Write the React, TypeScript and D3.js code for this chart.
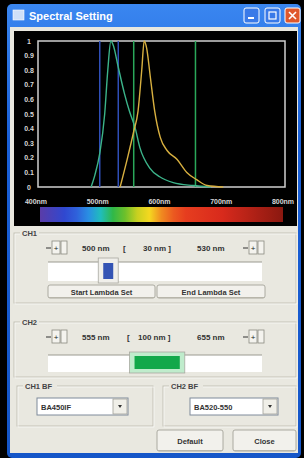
// @ts-nocheck
import React from 'react';
import * as d3 from 'd3';

// axis ticks
const xTicks = [400, 500, 600, 700, 800];
const yTicks = [0, 0.1, 0.2, 0.3, 0.4, 0.5, 0.6, 0.7, 0.8, 0.9, 1];

// green dye spectrum (wavelength nm, relative intensity)
const greenWl = [486, 492, 500, 508, 513, 518, 522, 530, 540, 548, 557, 565, 581, 597, 619, 651, 680];
const greenVal = [0, 0.08, 0.23, 0.5, 0.8, 1, 0.97, 0.82, 0.64, 0.52, 0.41, 0.27, 0.13, 0.07, 0.03, 0.01, 0];

// orange dye spectrum
const orangeWl = [533, 545, 555, 562, 568, 572, 576, 582, 589, 598, 609, 625, 641, 657, 674, 700];
const orangeVal = [0, 0.2, 0.38, 0.52, 0.8, 1, 0.95, 0.75, 0.52, 0.34, 0.25, 0.19, 0.1, 0.05, 0.01, 0];

// detection windows
const ch1Range = [500, 530];
const ch2Range = [555, 655];
const filters = ['BA450IF', 'BA520-550'];

// spectrum bar colours
const specWl = [400, 440, 470, 495, 510, 530, 560, 580, 600, 630, 700, 800];
const specCol = ['#5a3ca8', '#3048d0', '#2f6ee0', '#20c0e8', '#20b860', '#40b830', '#c8d020', '#f4d820', '#f08a20', '#e84020', '#d82a1c', '#8a1810'];

const font = '"Liberation Sans", Arial, sans-serif';

const Spin = ({ x, y }) => (
  <g>
    <line x1={x} y1={y + 7} x2={x + 5} y2={y + 7} stroke="#333" strokeWidth={1} />
    <rect x={x + 6} y={y} width={8} height={13} fill="#f4f3ee" stroke="#8a8a80" strokeWidth={0.8} />
    <text x={x + 10} y={y + 10} fontSize={8} textAnchor="middle" fill="#222" fontFamily={font}>+</text>
    <rect x={x + 15} y={y} width={6} height={13} fill="#f4f3ee" stroke="#8a8a80" strokeWidth={0.8} />
  </g>
);

const Button = ({ x, y, w, h, label }) => (
  <g>
    <rect x={x} y={y} width={w} height={h} rx={2} fill="#f2f1ec" stroke="#9a9a90" strokeWidth={0.8} />
    <line x1={x + 1} y1={y + h - 0.5} x2={x + w - 1} y2={y + h - 0.5} stroke="#b8b6aa" strokeWidth={1.2} />
    <text x={x + w / 2} y={y + h / 2 + 3} fontSize={7.5} fontWeight="bold" textAnchor="middle" fill="#333" fontFamily={font}>{label}</text>
  </g>
);

const Group = ({ x, y, w, h, label }) => (
  <g>
    <rect x={x} y={y} width={w} height={h} fill="none" stroke="#c4c2b6" strokeWidth={1} />
    <rect x={x + 1} y={y + 1} width={w} height={h} fill="none" stroke="#ffffff" strokeWidth={0.6} />
    <rect x={x + 6} y={y - 5} width={label.length * 5 + 4} height={9} fill="#e9e8e0" />
    <text x={x + 8} y={y + 3} fontSize={7.5} fontWeight="bold" fill="#444" fontFamily={font}>{label}</text>
  </g>
);

const Combo = ({ x, y, w, label }) => (
  <g>
    <rect x={x} y={y} width={w} height={17} fill="#fff" stroke="#7f8a9a" strokeWidth={1} />
    <text x={x + 4} y={y + 12} fontSize={7.5} fontWeight="bold" fill="#333" fontFamily={font}>{label}</text>
    <rect x={x + w - 15} y={y + 1} width={14} height={15} fill="#f0efe8" stroke="#a0a098" strokeWidth={0.8} />
    <path d={`M${x + w - 10},${y + 7} l4,0 l-2,3 z`} fill="#333" />
  </g>
);

const Txt = ({ x, y, children }) => (
  <text x={x} y={y} fontSize={8} fontWeight="bold" fill="#333" fontFamily={font}>{children}</text>
);

export default function App() {
  const x = d3.scaleLinear().domain([400, 800]).range([38, 285]);
  const y = d3.scaleLinear().domain([0, 1]).range([187, 41]);
  const slider = d3.scaleLinear().domain([400, 800]).range([49, 262]);
  const specColor = d3.scaleLinear().domain(specWl).range(specCol);

  const line = d3.line().x(d => x(d[0])).y(d => y(d[1])).curve(d3.curveMonotoneX);
  const green = line(greenWl.map((w, i) => [w, greenVal[i]]));
  const orange = line(orangeWl.map((w, i) => [w, orangeVal[i]]));

  const gradStops = d3.range(400, 801, 20);

  return (
    <svg width={304} height={458} style={{ position: 'absolute', left: 0, top: 0, background: '#000' }}>
      <defs>
        <linearGradient id="spec" x1="0" x2="1" y1="0" y2="0">
          {gradStops.map(w => (
            <stop key={w} offset={(w - 400) / 400} stopColor={specColor(w)} />
          ))}
        </linearGradient>
        <linearGradient id="title" x1="0" x2="0" y1="0" y2="1">
          <stop offset="0" stopColor="#3a86f0" />
          <stop offset="0.3" stopColor="#1a60d8" />
          <stop offset="1" stopColor="#1556c8" />
        </linearGradient>
      </defs>

      {/* window frame */}
      <rect x={7} y={4} width={294} height={454} rx={5} fill="url(#title)" />
      <rect x={10} y={27} width={288} height={426} fill="#e9e8e0" />
      <rect x={13} y={10} width={11} height={10} fill="#cfe0f8" stroke="#fff" strokeWidth={0.6} />
      <text x={29} y={19.5} fontSize={11} fontWeight="bold" fill="#fff" fontFamily={font}>Spectral Setting</text>
      <rect x={244} y={8} width={15} height={15} rx={2} fill="#3a7ae8" stroke="#fff" strokeWidth={1} />
      <rect x={248} y={17} width={6} height={2} fill="#fff" />
      <rect x={265} y={8} width={15} height={15} rx={2} fill="#3a7ae8" stroke="#fff" strokeWidth={1} />
      <rect x={269} y={12} width={7} height={7} fill="none" stroke="#fff" strokeWidth={1.2} />
      <rect x={285} y={8} width={15} height={15} rx={2} fill="#e0582c" stroke="#fff" strokeWidth={1} />
      <path d="M289,12 l7,7 M296,12 l-7,7" stroke="#fff" strokeWidth={1.6} />

      {/* chart panel */}
      <rect x={14} y={31} width={283} height={195} fill="#000" />
      <rect x={x(400)} y={y(1)} width={x(800) - x(400)} height={y(0) - y(1)} fill="none" stroke="#cfcfcf" strokeWidth={1.5} />

      {yTicks.map(t => (
        <text key={t} x={29} y={y(t) + 2.5} fontSize={7} fontWeight="bold" textAnchor="middle" fill="#d8d8d8" fontFamily={font}>
          {t === 0 || t === 1 ? t : t.toFixed(1)}
        </text>
      ))}
      {xTicks.map(t => (
        <text key={t} x={x(t) - 2} y={204} fontSize={7} fontWeight="bold" textAnchor="middle" fill="#d8d8d8" fontFamily={font}>
          {t}nm
        </text>
      ))}

      <rect x={40} y={207} width={243} height={15} fill="url(#spec)" />

      {/* detection windows */}
      {ch1Range.map(w => (
        <line key={'c1' + w} x1={x(w)} x2={x(w)} y1={y(1)} y2={y(0)} stroke="#2f4fb8" strokeWidth={1.5} />
      ))}
      {ch2Range.map(w => (
        <line key={'c2' + w} x1={x(w)} x2={x(w)} y1={y(1)} y2={y(0)} stroke="#2aa85a" strokeWidth={1.5} />
      ))}

      <path d={green} fill="none" stroke="#3cb48a" strokeWidth={1.4} />
      <path d={orange} fill="none" stroke="#d8b040" strokeWidth={1.4} />

      {/* CH1 group */}
      <Group x={14} y={233} w={282} h={70} label="CH1" />
      <Spin x={46} y={241} />
      <Txt x={82} y={251}>{`${ch1Range[0]} nm`}</Txt>
      <Txt x={123} y={251}>[</Txt>
      <Txt x={143} y={251}>{`${ch1Range[1] - ch1Range[0]} nm ]`}</Txt>
      <Txt x={197} y={251}>{`${ch1Range[1]} nm`}</Txt>
      <Spin x={243} y={241} />
      <rect x={48} y={262} width={214} height={19} fill="#fff" />
      <line x1={48} y1={262} x2={262} y2={262} stroke="#9a9a90" strokeWidth={1} />
      <rect x={slider(ch1Range[0]) - 4} y={258} width={slider(ch1Range[1]) - slider(ch1Range[0]) + 4} height={25} fill="#f0efea" stroke="#a8a8a0" strokeWidth={0.8} />
      <rect x={slider(ch1Range[0]) + 1} y={263} width={slider(ch1Range[1]) - slider(ch1Range[0]) - 6} height={16} fill="#3454b4" />
      <Button x={48} y={285} w={107} h={13} label="Start Lambda Set" />
      <Button x={157} y={285} w={108} h={13} label="End Lambda Set" />

      {/* CH2 group */}
      <Group x={14} y={322} w={282} h={55} label="CH2" />
      <Spin x={46} y={330} />
      <Txt x={82} y={340}>{`${ch2Range[0]} nm`}</Txt>
      <Txt x={127} y={340}>[</Txt>
      <Txt x={138} y={340}>{`${ch2Range[1] - ch2Range[0]} nm ]`}</Txt>
      <Txt x={197} y={340}>{`${ch2Range[1]} nm`}</Txt>
      <Spin x={243} y={330} />
      <rect x={48} y={355} width={214} height={17} fill="#fff" />
      <line x1={48} y1={355} x2={262} y2={355} stroke="#9a9a90" strokeWidth={1} />
      <rect x={slider(ch2Range[0]) - 2} y={352} width={slider(ch2Range[1]) - slider(ch2Range[0]) + 2} height={21} fill="#bfeccc" stroke="#a8a8a0" strokeWidth={0.8} />
      <rect x={slider(ch2Range[0]) + 3} y={356} width={slider(ch2Range[1]) - slider(ch2Range[0]) - 8} height={13} fill="#12a84a" />

      {/* filter groups */}
      <Group x={17} y={386} w={136} h={40} label="CH1 BF" />
      <Group x={163} y={386} w={133} h={40} label="CH2 BF" />
      <Combo x={37} y={398} w={91} label={filters[0]} />
      <Combo x={190} y={398} w={88} label={filters[1]} />

      <Button x={157} y={430} w={66} h={21} label="Default" />
      <Button x={233} y={430} w={63} h={21} label="Close" />
    </svg>
  );
}
